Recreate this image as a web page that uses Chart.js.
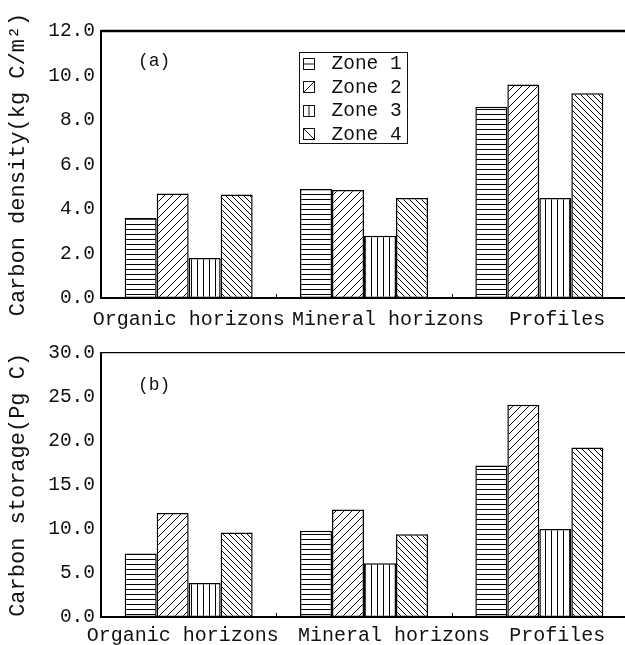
<!DOCTYPE html>
<html>
<head>
<meta charset="utf-8">
<script src="https://cdn.jsdelivr.net/npm/chart.js@4.4.1/dist/chart.umd.min.js"></script>
<style>
    html, body { margin: 0; padding: 0; background: #fff; }
    #contenedor { width: 625px; height: 645px; overflow: hidden; }
    canvas { display: block; }
</style>
</head>
<body>
<div id="contenedor">
    <canvas id="chartDensidad" width="630" height="335"></canvas>
    <canvas id="chartAlmacen" width="630" height="310"></canvas>
</div>
<script>
// Datos
const categorias = ['Organic horizons', 'Mineral horizons', 'Profiles'];
const zonas = ['Zone 1', 'Zone 2', 'Zone 3', 'Zone 4'];

// (a) Densidad de carbono (kg C/m2)
const densidadZona1 = [3.6, 4.9, 8.6];
const densidadZona2 = [4.7, 4.85, 9.6];
const densidadZona3 = [1.8, 2.8, 4.5];
const densidadZona4 = [4.65, 4.5, 9.2];
const ticksDensidad = [0, 2, 4, 6, 8, 10, 12];

// (b) Almacenamiento de carbono (Pg C)
const almacenZona1 = [7.2, 9.8, 17.2];
const almacenZona2 = [11.8, 12.2, 24.1];
const almacenZona3 = [3.85, 6.1, 10.0];
const almacenZona4 = [9.6, 9.4, 19.25];
const ticksAlmacen = [0, 5, 10, 15, 20, 25, 30];

const FUENTE = "'Liberation Mono', 'DejaVu Sans Mono', monospace";
const TINTA = '#111';
const tiposTrama = ['horizontal', 'diagonal', 'vertical', 'inversa'];

// Trama de relleno para cada zona
function crearPatron(tipo) {
    const paso = { horizontal: 5, vertical: 6, diagonal: 8, inversa: 6 }[tipo];
    const c = document.createElement('canvas');
    c.width = paso;
    c.height = paso;
    const ctx = c.getContext('2d');
    ctx.fillStyle = '#fff';
    ctx.fillRect(0, 0, paso, paso);
    ctx.strokeStyle = '#000';
    ctx.lineWidth = 1;
    ctx.beginPath();
    if (tipo === 'horizontal') {
        ctx.moveTo(0, paso - 0.5); ctx.lineTo(paso, paso - 0.5);
    } else if (tipo === 'vertical') {
        ctx.moveTo(paso - 0.5, 0); ctx.lineTo(paso - 0.5, paso);
    } else if (tipo === 'diagonal') {
        ctx.moveTo(0, paso); ctx.lineTo(paso, 0);
        ctx.moveTo(-1, 1); ctx.lineTo(1, -1);
        ctx.moveTo(paso - 1, paso + 1); ctx.lineTo(paso + 1, paso - 1);
    } else {
        ctx.moveTo(0, 0); ctx.lineTo(paso, paso);
        ctx.moveTo(-1, paso - 1); ctx.lineTo(1, paso + 1);
        ctx.moveTo(paso - 1, -1); ctx.lineTo(paso + 1, 1);
    }
    ctx.stroke();
    return document.createElement('canvas').getContext('2d').createPattern(c, 'repeat');
}

// Marca pequeña de la leyenda
function dibujarMuestra(ctx, tipo, x, y, t) {
    ctx.save();
    ctx.strokeStyle = TINTA;
    ctx.lineWidth = 1;
    ctx.strokeRect(x + 0.5, y + 0.5, t, t);
    ctx.beginPath();
    if (tipo === 'horizontal') { ctx.moveTo(x, y + t / 2 + 0.5); ctx.lineTo(x + t, y + t / 2 + 0.5); }
    else if (tipo === 'vertical') { ctx.moveTo(x + t / 2 + 0.5, y); ctx.lineTo(x + t / 2 + 0.5, y + t); }
    else if (tipo === 'diagonal') { ctx.moveTo(x + 0.5, y + t + 0.5); ctx.lineTo(x + t + 0.5, y + 0.5); }
    else { ctx.moveTo(x + 0.5, y + 0.5); ctx.lineTo(x + t + 0.5, y + t + 0.5); }
    ctx.stroke();
    ctx.restore();
}

// Plugin: borde superior, marcas entre grupos, etiqueta del panel y leyenda
const pluginMarco = {
    id: 'marco',
    afterDatasetsDraw(chart, args, opts) {
        const { ctx, chartArea } = chart;
        const x = chart.scales.x;
        ctx.save();
        ctx.strokeStyle = '#000';
        ctx.lineWidth = opts.grosorSuperior;
        ctx.beginPath();
        ctx.moveTo(chartArea.left, chartArea.top);
        ctx.lineTo(chartArea.right + 5, chartArea.top);
        ctx.stroke();

        ctx.lineWidth = 1;
        ctx.beginPath();
        for (let i = 1; i < x.ticks.length; i++) {
            const px = Math.round((x.getPixelForTick(i - 1) + x.getPixelForTick(i)) / 2) + 0.5;
            ctx.moveTo(px, chartArea.bottom);
            ctx.lineTo(px, chartArea.bottom - 4);
        }
        ctx.stroke();

        ctx.fillStyle = TINTA;
        ctx.font = '18px ' + FUENTE;
        ctx.textBaseline = 'middle';
        ctx.fillText(opts.panel, chartArea.left + 37, chartArea.top + opts.panelY);

        if (opts.leyenda) {
            const bx = Math.round(chartArea.left + chartArea.width * 0.377) + 0.5;
            const by = chartArea.top + 21.5;
            ctx.lineWidth = 1;
            ctx.strokeStyle = TINTA;
            ctx.strokeRect(bx, by, 108, 91);
            ctx.font = '19.5px ' + FUENTE;
            chart.data.datasets.forEach((ds, i) => {
                const cy = by + 10.5 + i * 23.5;
                dibujarMuestra(ctx, tiposTrama[i], Math.round(bx) + 3, Math.round(cy - 5.5), 11);
                ctx.fillText(ds.label, bx + 32, cy + 1);
            });
        }
        ctx.restore();
    }
};

function crearGrafico(id, series, ticksY, tituloY, cfg) {
    const patrones = tiposTrama.map(crearPatron);
    return new Chart(document.getElementById(id), {
        type: 'bar',
        data: {
            labels: categorias,
            datasets: series.map((datos, i) => ({
                label: zonas[i],
                data: datos,
                backgroundColor: patrones[i],
                borderColor: '#000',
                borderWidth: 1.5,
                borderSkipped: false,
                categoryPercentage: 0.73,
                barPercentage: 1
            }))
        },
        options: {
            responsive: false,
            animation: false,
            devicePixelRatio: 1,
            layout: { padding: { top: cfg.arriba, right: 3, left: 0, bottom: 0 } },
            plugins: {
                legend: { display: false },
                tooltip: { enabled: false },
                marco: { grosorSuperior: cfg.grosorSuperior, panel: cfg.panel, panelY: cfg.panelY, leyenda: cfg.leyenda }
            },
            scales: {
                x: {
                    grid: { display: false, drawTicks: false },
                    border: { display: true, color: '#000', width: 2 },
                    ticks: {
                        color: TINTA,
                        font: { family: FUENTE, size: 20 },
                        padding: cfg.padEtiquetas,
                        maxRotation: 0,
                        autoSkip: false,
                        callback: (v, i) => ' '.repeat(cfg.espacios[i]) + categorias[i] + ' '.repeat(cfg.finales[i])
                    },
                    afterFit: (s) => { s.height = cfg.altoEje; }
                },
                y: {
                    min: ticksY[0],
                    max: ticksY[ticksY.length - 1],
                    grid: { display: false, drawTicks: false },
                    border: { display: true, color: '#000', width: 2 },
                    ticks: {
                        stepSize: ticksY[1] - ticksY[0],
                        color: TINTA,
                        font: { family: FUENTE, size: 19.5 },
                        padding: 6,
                        callback: (v) => v.toFixed(1)
                    },
                    title: {
                        display: true,
                        text: tituloY,
                        color: TINTA,
                        font: { family: FUENTE, size: 22 },
                        padding: { top: 5, bottom: 0 }
                    },
                    afterFit: (s) => { s.width = 101; }
                }
            }
        },
        plugins: [pluginMarco]
    });
}

document.addEventListener('DOMContentLoaded', () => {
    crearGrafico('chartDensidad',
        [densidadZona1, densidadZona2, densidadZona3, densidadZona4],
        ticksDensidad, 'Carbon density(kg C/m²)',
        { arriba: 31, altoEje: 37, padEtiquetas: 10, grosorSuperior: 2.5, panel: '(a)', panelY: 30, leyenda: true,
          espacios: [0, 4, 3], finales: [0, 0, 0] });

    crearGrafico('chartAlmacen',
        [almacenZona1, almacenZona2, almacenZona3, almacenZona4],
        ticksAlmacen, 'Carbon storage(Pg C)',
        { arriba: 17, altoEje: 28, padEtiquetas: 7, grosorSuperior: 1.2, panel: '(b)', panelY: 33, leyenda: false,
          espacios: [0, 5, 3], finales: [1, 0, 0] });
});
</script>
</body>
</html>
